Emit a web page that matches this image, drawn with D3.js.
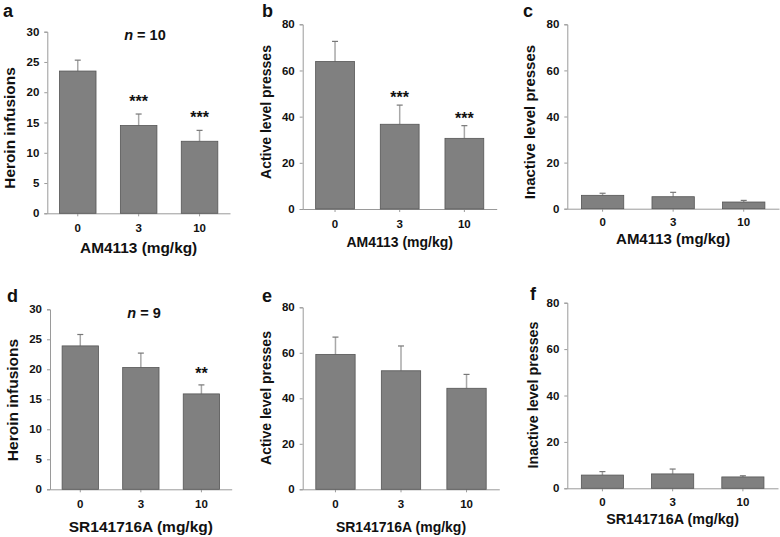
<!DOCTYPE html>
<html>
<head>
<meta charset="utf-8">
<script src="https://cdn.jsdelivr.net/npm/d3@7"></script>
<style>
  body { margin: 0; background: #fff; }
  text { font-family: Arial, "Liberation Sans", sans-serif; font-weight: bold; fill: #111; }
</style>
</head>
<body>
<div id="chart"></div>
<script>
var width = 780,
    height = 537;

// data
var doses = ["0", "3", "10"];

var heroinAM = [23.5, 14.5, 11.9],   semHeroinAM = [1.8, 1.9, 1.8];
var activeAM = [63.9, 36.7, 30.6],   semActiveAM = [8.7, 8.3, 5.5];
var inactiveAM = [5.8, 5.2, 2.9],    semInactiveAM = [0.9, 1.9, 0.7];

var heroinSR = [23.9, 20.3, 15.9],   semHeroinSR = [1.9, 2.4, 1.5];
var activeSR = [59.3, 52.1, 44.4],   semActiveSR = [7.6, 10.9, 6.1];
var inactiveSR = [5.7, 6.2, 4.9],    semInactiveSR = [1.5, 2.1, 0.5];

var starsAM = ["", "***", "***"];
var starsSR = ["", "", "**"];

var heroinTicks = [0, 5, 10, 15, 20, 25, 30];
var pressTicks = [0, 20, 40, 60, 80];

// layout of each panel
var panels = [
  {letter: "a", vals: heroinAM, sem: semHeroinAM, stars: starsAM, ticks: heroinTicks, max: 30,
   x0: 47.3, x1: 230, y0: 31.7, y1: 213.3, lx: 3, ly: 17, tx: 15, ty: 128, pad: 8,
   ytitle: "Heroin infusions", xtitle: "AM4113 (mg/kg)", xty: 253, fs: 15.4, starGap: 7, n: "10", nx: 145, ny: 40},
  {letter: "b", vals: activeAM, sem: semActiveAM, stars: starsAM, ticks: pressTicks, max: 80,
   x0: 302.7, x1: 496.7, y0: 24.3, y1: 209, lx: 262, ly: 17, tx: 271, ty: 112, pad: 8,
   ytitle: "Active level presses", xtitle: "AM4113 (mg/kg)", xty: 246.5, fs: 14, starGap: 2},
  {letter: "c", vals: inactiveAM, sem: semInactiveAM, stars: null, ticks: pressTicks, max: 80,
   x0: 567.3, x1: 779, y0: 24.3, y1: 208.7, lx: 523, ly: 17, tx: 535, ty: 122, pad: 6,
   ytitle: "Inactive level presses", xtitle: "AM4113 (mg/kg)", xty: 244, fs: 15},
  {letter: "d", vals: heroinSR, sem: semHeroinSR, stars: starsSR, ticks: heroinTicks, max: 30,
   x0: 50, x1: 231.7, y0: 309.3, y1: 489.3, lx: 7, ly: 302, tx: 18, ty: 400, pad: 8,
   ytitle: "Heroin infusions", xtitle: "SR141716A (mg/kg)", xty: 532, fs: 15.5, starGap: 6, n: "9", nx: 144, ny: 318},
  {letter: "e", vals: activeSR, sem: semActiveSR, stars: null, ticks: pressTicks, max: 80,
   x0: 302.7, x1: 499.3, y0: 307.3, y1: 489.3, lx: 262, ly: 302, tx: 271, ty: 398, pad: 8,
   ytitle: "Active level presses", xtitle: "SR141716A (mg/kg)", xty: 531.5, fs: 14},
  {letter: "f", vals: inactiveSR, sem: semInactiveSR, stars: null, ticks: pressTicks, max: 80,
   x0: 567.3, x1: 778, y0: 302.7, y1: 488.3, lx: 530, ly: 300, tx: 538, ty: 395, pad: 7,
   ytitle: "Inactive level presses", xtitle: "SR141716A (mg/kg)", xty: 524, fs: 14.3}
];

var svg = d3.select("#chart")
  .append("svg")
    .attr("width", width)
    .attr("height", height);

panels.forEach(function(p) {
  var g = svg.append("g");

  var x = d3.scaleBand()
    .domain(doses)
    .range([p.x0, p.x1])
    .paddingInner(0.4)
    .paddingOuter(0.2);

  var y = d3.scaleLinear()
    .domain([0, p.max])
    .range([p.y1, p.y0]);

  // y axis
  var yAxis = g.append("g")
    .attr("transform", "translate(" + p.x0 + ",0)")
    .call(d3.axisLeft(y).tickValues(p.ticks).tickSize(3).tickPadding(5));
  yAxis.selectAll("text").style("font-size", "11.5px");

  // x axis
  var xAxis = g.append("g")
    .attr("transform", "translate(0," + p.y1 + ")")
    .call(d3.axisBottom(x).tickSize(3).tickPadding(p.pad).tickSizeOuter(0));
  xAxis.selectAll("text").style("font-size", "11.5px");

  g.selectAll(".domain, .tick line").attr("stroke", "#9a9a9a");

  // error bars (upper only)
  g.selectAll("line.err")
    .data(doses)
    .enter()
    .append("line")
      .attr("class", "err")
      .attr("x1", function(d) { return x(d) + x.bandwidth() / 2 })
      .attr("x2", function(d) { return x(d) + x.bandwidth() / 2 })
      .attr("y1", function(d, i) { return y(p.vals[i]) })
      .attr("y2", function(d, i) { return y(p.vals[i] + p.sem[i]) })
      .attr("stroke", "#a8a8a8")
      .attr("stroke-width", 1.5);

  g.selectAll("line.cap")
    .data(doses)
    .enter()
    .append("line")
      .attr("class", "cap")
      .attr("x1", function(d) { return x(d) + x.bandwidth() / 2 - 3 })
      .attr("x2", function(d) { return x(d) + x.bandwidth() / 2 + 3 })
      .attr("y1", function(d, i) { return y(p.vals[i] + p.sem[i]) })
      .attr("y2", function(d, i) { return y(p.vals[i] + p.sem[i]) })
      .attr("stroke", "#777")
      .attr("stroke-width", 1.2);

  // bars
  g.selectAll("rect")
    .data(doses)
    .enter()
    .append("rect")
      .attr("x", function(d) { return x(d) })
      .attr("width", x.bandwidth())
      .attr("y", function(d, i) { return y(p.vals[i]) })
      .attr("height", function(d, i) { return y(0) - y(p.vals[i]) })
      .attr("fill", "#808080")
      .attr("stroke", "#555")
      .attr("stroke-width", 0.8);

  // significance stars
  if (p.stars) {
    g.selectAll("text.star")
      .data(doses)
      .enter()
      .append("text")
        .attr("class", "star")
        .attr("x", function(d) { return x(d) + x.bandwidth() / 2 })
        .attr("y", function(d, i) { return y(p.vals[i] + p.sem[i]) - p.starGap })
        .attr("text-anchor", "middle")
        .style("font-size", "16px")
        .text(function(d, i) { return p.stars[i] });
  }

  // n label
  if (p.n) {
    var nt = g.append("text")
      .attr("x", p.nx)
      .attr("y", p.ny)
      .attr("text-anchor", "middle")
      .style("font-size", "14.5px");
    nt.append("tspan").style("font-style", "italic").text("n");
    nt.append("tspan").text(" = " + p.n);
  }

  // panel letter
  g.append("text")
    .attr("x", p.lx)
    .attr("y", p.ly)
    .style("font-size", "18px")
    .text(p.letter);

  // axis titles
  g.append("text")
    .attr("transform", "translate(" + p.tx + "," + p.ty + ") rotate(-90)")
    .attr("text-anchor", "middle")
    .style("font-size", p.fs + "px")
    .text(p.ytitle);

  g.append("text")
    .attr("x", (p.x0 + p.x1) / 2)
    .attr("y", p.xty)
    .attr("text-anchor", "middle")
    .style("font-size", p.fs + "px")
    .text(p.xtitle);
});
</script>
</body>
</html>
